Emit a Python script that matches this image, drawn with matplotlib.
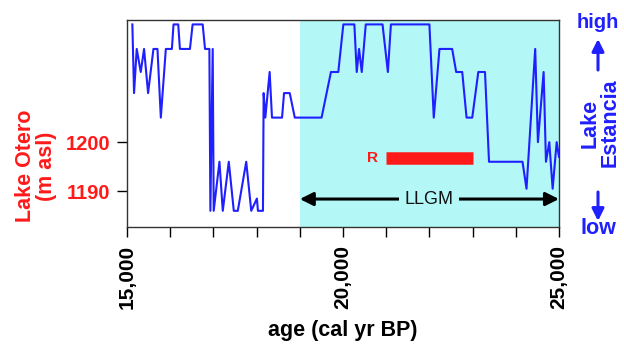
import numpy as np
import matplotlib
matplotlib.use("Agg")
from matplotlib import pyplot as plt
from matplotlib.patches import FancyArrowPatch

plt.rcParams['font.family'] = ['Liberation Sans', 'DejaVu Sans']

# Lake Estancia record (age, level on the Otero scale)
age = [15124, 15163, 15225, 15318, 15395, 15488, 15612, 15705, 15783, 15899,
       16039, 16077, 16186, 16225, 16457, 16519, 16752, 16806, 16907, 16930,
       16984, 17007, 17140, 17217, 17356, 17472, 17565, 17760, 17876, 18007,
       18031, 18147, 18163, 18202, 18302, 18356, 18589, 18635, 18767, 18884,
       19504, 19721, 19891, 20008, 20263, 20318, 20372, 20434, 20527, 20915,
       21039, 21109, 22000, 22101, 22233, 22527, 22620, 22760, 22860, 22992,
       23132, 23287, 23380, 24155, 24248, 24449, 24512, 24644, 24698, 24775,
       24853, 24946, 25000]
level = [1224, 1210, 1219, 1214.3, 1219, 1210, 1219, 1219, 1205, 1219,
         1219, 1224, 1224, 1219, 1219, 1224, 1224, 1219, 1219, 1186,
         1219, 1186, 1196, 1186, 1196, 1186, 1186, 1196, 1186, 1188.5,
         1186, 1186, 1210, 1205, 1214.3, 1205, 1205, 1210, 1210, 1205,
         1205, 1214.3, 1214.3, 1224, 1224, 1214.3, 1219, 1214.3, 1224, 1224,
         1214.3, 1224, 1224, 1205, 1219, 1219, 1214.3, 1214.3, 1205, 1205,
         1214.3, 1214.3, 1196, 1196, 1190.5, 1219, 1200, 1214.3, 1196, 1200,
         1190.5, 1200, 1197]

llgm = (19000, 25000)
llgm_level = 1188.4
r_start, r_end, r_level = 21000, 23000, 1196.7
yticks = [1190, 1200]
xticks_major = [15000, 20000, 25000]
xtick_labels = ["15,000", "20,000", "25,000"]

blue = '#1f1fff'
red = '#ff1a1a'
cyan = '#b3f7f7'

fig = plt.figure(figsize=(6.24, 3.46), dpi=100)
ax = fig.add_axes([127/624, 1-227/346, 432/624, 207/346])

ax.axvspan(llgm[0], llgm[1], color=cyan, zorder=0, lw=0)
ax.plot(age, level, color=blue, lw=1.5, zorder=3)

# radiocarbon bar
ax.plot([r_start, r_end], [r_level, r_level], color=red, lw=9, solid_capstyle='butt', zorder=4)
ax.text(r_start - 200, r_level, "R", color=red, fontweight='bold', fontsize=11,
        ha='right', va='center')

# LLGM arrow
ax.annotate("", xy=(llgm[0], llgm_level), xytext=(llgm[1], llgm_level),
            arrowprops=dict(arrowstyle='<|-|>', color='black', lw=2.2, mutation_scale=20,
                            shrinkA=0, shrinkB=0))
ax.text(22000, llgm_level, "LLGM", fontsize=13, ha='center', va='center', color='#111111',
        bbox=dict(facecolor=cyan, edgecolor='none', pad=4), zorder=5)

ax.set_xlim(15000, 25000)
ax.set_ylim(1182.7, 1224.9)
ax.set_xticks(xticks_major)
ax.set_xticklabels(xtick_labels, rotation=90, fontweight='bold', fontsize=15)
ax.set_xticks(np.arange(15000, 25001, 1000), minor=True)
ax.tick_params(axis='x', which='both', direction='out', length=7, width=1, pad=6)
ax.set_yticks(yticks)
ax.set_yticklabels([str(t) for t in yticks], color=red, fontweight='bold', fontsize=14.5)
ax.tick_params(axis='y', direction='out', length=7, width=1, pad=5)
for s in ax.spines.values():
    s.set_color('#333333')
    s.set_linewidth(1)

ax.set_xlabel("age (cal yr BP)", fontweight='bold', fontsize=15.5, labelpad=8)

fig.text(36/624, 1-166/346, "Lake Otero\n(m asl)", rotation=90, color=red, fontweight='bold',
         fontsize=15.5, ha='center', va='center', linespacing=0.95)

# right-hand Lake Estancia scale
fig.text(598/624, 1-22/346, "high", color=blue, fontweight='bold', fontsize=14.5, ha='center', va='center')
fig.text(598/624, 1-228/346, "low", color=blue, fontweight='bold', fontsize=15.5, ha='center', va='center')
fig.text(600/624, 1-123/346, "Lake\nEstancia", rotation=90, color=blue, fontweight='bold',
         fontsize=15.5, ha='center', va='center', linespacing=0.95)
fig.patches.append(FancyArrowPatch((598/624, 1-70/346), (598/624, 1-39/346),
                   transform=fig.transFigure, arrowstyle='-|>', color=blue, lw=2.2,
                   mutation_scale=18, shrinkA=0, shrinkB=0))
fig.patches.append(FancyArrowPatch((598/624, 1-192/346), (598/624, 1-221/346),
                   transform=fig.transFigure, arrowstyle='-|>', color=blue, lw=2.2,
                   mutation_scale=18, shrinkA=0, shrinkB=0))

fig.savefig("out.png", dpi=100)
